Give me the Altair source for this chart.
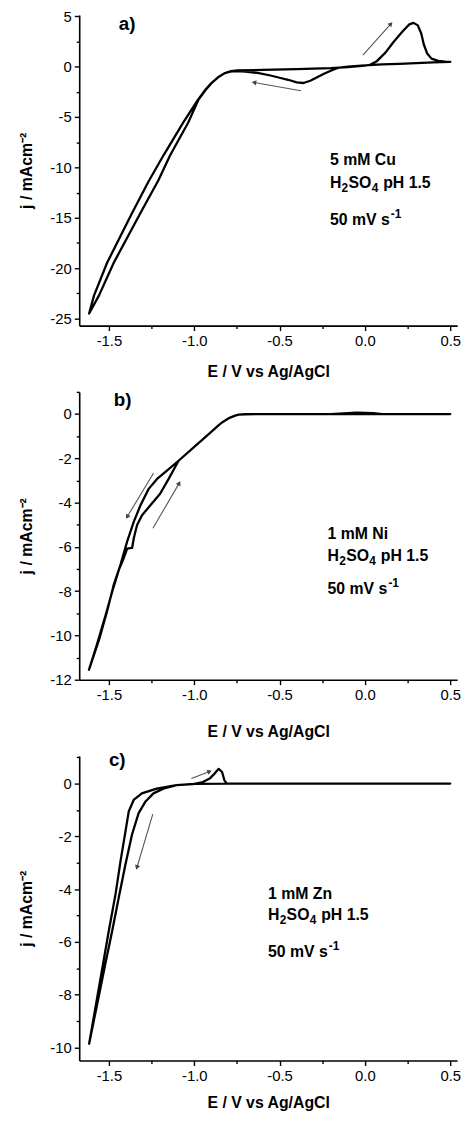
import math
import altair as alt
import pandas as pd

FONT = "Liberation Sans"
W = 382
XDOM = [-1.674, 0.54]
X_MAJOR = [-1.5, -1.0, -0.5, 0.0, 0.5]
X_MINOR = [-1.25, -0.75, -0.25, 0.25]

# ---------------- panel a) 5 mM Cu ----------------
cu_E = [0.50, 0.40, 0.30, 0.20, 0.10, 0.00, -0.10, -0.16, -0.20, -0.24, -0.28, -0.32, -0.36, -0.40,
        -0.45, -0.50, -0.56, -0.63, -0.70, -0.75, -0.79, -0.825, -0.86, -0.90, -0.94, -0.978,
        -1.065, -1.181, -1.268, -1.365, -1.51, -1.587, -1.616,
        -1.558, -1.471, -1.316, -1.21, -1.142, -1.036, -0.975, -0.935, -0.897, -0.858, -0.82,
        -0.785, -0.746, -0.60, -0.40, -0.20, -0.10, 0.00, 0.03, 0.07, 0.12, 0.17, 0.22, 0.26,
        0.285, 0.31, 0.33, 0.345, 0.365, 0.39, 0.43, 0.47, 0.50]
cu_j = [0.48, 0.42, 0.35, 0.28, 0.22, 0.12, 0.00, -0.12, -0.40, -0.70, -1.05, -1.40, -1.62, -1.55,
        -1.30, -1.10, -0.85, -0.62, -0.48, -0.44, -0.50, -0.68, -1.05, -1.63, -2.40, -3.27,
        -5.56, -8.82, -11.4, -14.54, -19.44, -22.7, -24.5,
        -22.7, -19.44, -14.54, -11.27, -8.82, -5.56, -3.27, -2.35, -1.60, -1.02, -0.63,
        -0.43, -0.36, -0.32, -0.25, -0.15, -0.04, 0.10, 0.18, 0.55, 1.40, 2.50, 3.50, 4.20,
        4.35, 4.10, 3.30, 2.20, 1.30, 0.80, 0.58, 0.50, 0.48]
cu_arrow_x1 = [-0.012, -0.375]
cu_arrow_y1 = [1.14, -2.39]
cu_arrow_x2 = [0.152, -0.65]
cu_arrow_y2 = [4.25, -1.57]
cu_label = "5 mM Cu"
cu_text_y = [-9.25, -11.54, -15.2]

# ---------------- panel b) 1 mM Ni ----------------
ni_E = [0.50, 0.10, 0.05, -0.05, -0.10, -0.20, -0.40, -0.60, -0.70, -0.74, -0.76, -0.79, -0.81,
        -0.835, -0.86, -0.907, -1.005, -1.092, -1.16, -1.218, -1.267, -1.315, -1.354, -1.393,
        -1.432, -1.471, -1.51, -1.558, -1.617,
        -1.57, -1.52, -1.48, -1.44, -1.413, -1.393, -1.364, -1.354, -1.335, -1.306, -1.257,
        -1.20, -1.15, -1.092, -1.005, -0.907, -0.86, -0.835, -0.81, -0.79, -0.76, -0.74, -0.70,
        -0.50, 0.50]
ni_j = [0.0, 0.0, 0.04, 0.06, 0.04, 0.0, 0.0, 0.0, -0.01, -0.03, -0.07, -0.16, -0.25,
        -0.37, -0.52, -0.85, -1.52, -2.11, -2.56, -2.93, -3.38, -4.12, -4.86, -5.75,
        -6.80, -7.69, -8.88, -10.2, -11.55,
        -10.4, -9.1, -8.0, -7.0, -6.5, -6.08, -6.05, -5.6, -5.01, -4.57, -4.12,
        -3.6, -2.93, -2.11, -1.52, -0.85, -0.52, -0.37, -0.25, -0.16, -0.07, -0.03, -0.01,
        0.0, 0.0]
ni_arrow_x1 = [-1.238, -1.242]
ni_arrow_y1 = [-2.66, -5.16]
ni_arrow_x2 = [-1.393, -1.088]
ni_arrow_y2 = [-4.64, -3.12]
ni_label = "1 mM Ni"
ni_text_y = [-5.42, -6.43, -7.92]

# ---------------- panel c) 1 mM Zn ----------------
zn_E = [0.50, -0.80, -1.00, -1.104, -1.181, -1.239, -1.287, -1.326, -1.365, -1.403, -1.442, -1.48,
        -1.52, -1.57, -1.616,
        -1.60, -1.55, -1.50, -1.461, -1.432, -1.403, -1.384, -1.355, -1.307, -1.22, -1.104, -1.007,
        -0.949, -0.91, -0.882, -0.857, -0.837, -0.823, -0.81, -0.70, 0.50]
zn_j = [0.0, 0.0, -0.01, -0.06, -0.19, -0.37, -0.69, -1.12, -1.94, -3.06, -4.31, -5.56,
        -6.80, -8.40, -9.86,
        -9.27, -7.41, -5.56, -4.18, -2.94, -1.81, -1.06, -0.62, -0.37, -0.19, -0.06, -0.02,
        0.06, 0.19, 0.37, 0.56, 0.44, 0.12, 0.0, 0.0, 0.0]
zn_arrow_x1 = [-1.017, -1.243]
zn_arrow_y1 = [0.19, -1.16]
zn_arrow_x2 = [-0.91, -1.336]
zn_arrow_y2 = [0.46, -3.18]
zn_label = "1 mM Zn"
zn_text_y = [-4.18, -5.0, -6.37]

FIX_MINUS = "replace(datum.label, '\u2212', '-')"


def text_piece(x, y, s, xs, ys, size=16, dx=0, dy=0):
    df = pd.DataFrame({"x": [x], "y": [y], "t": [s]})
    return alt.Chart(df).mark_text(
        align="left", baseline="middle", font=FONT, fontSize=size, fontWeight="bold",
        color="black", dx=dx, dy=dy
    ).encode(
        x=alt.X("x:Q", scale=xs, axis=None),
        y=alt.Y("y:Q", scale=ys, axis=None),
        text="t:N",
    )


def build_panel(E, J, ydom, height, y_major, y_minor, ax1, ay1, ax2, ay2,
                text_x, first_line, text_y, tag, tag_x, tag_y, xtitle_pad):
    xs = alt.Scale(domain=XDOM, nice=False, zero=False)
    ys = alt.Scale(domain=ydom, nice=False, zero=False)
    curve = pd.DataFrame({"E": E, "j": J, "i": list(range(len(E)))})

    line = alt.Chart(curve).mark_line(
        color="black", strokeWidth=2.3, strokeJoin="round", strokeCap="round"
    ).encode(
        x=alt.X("E:Q", scale=xs, axis=alt.Axis(
            values=X_MAJOR, format=".1f", title="E / V vs Ag/AgCl", orient="bottom",
            titlePadding=xtitle_pad, labelExpr=FIX_MINUS)),
        y=alt.Y("j:Q", scale=ys, axis=alt.Axis(
            values=y_major, format="d", title="j / mAcm\u207b\u00b2", orient="left",
            titlePadding=16, labelExpr=FIX_MINUS)),
        order="i:Q",
    )

    minor = alt.Chart(curve).mark_point(opacity=0).encode(
        x=alt.X("E:Q", scale=xs, axis=alt.Axis(
            values=X_MINOR, labels=False, title=None, tickSize=3, domain=False, orient="bottom")),
        y=alt.Y("j:Q", scale=ys, axis=alt.Axis(
            values=y_minor, labels=False, title=None, tickSize=3, domain=False, orient="left")),
    )

    sx = W / (XDOM[1] - XDOM[0])
    sy = height / (ydom[1] - ydom[0])
    angs = [(math.degrees(math.atan2((b - a) * sx, (d - c) * sy)) + 360) % 360
            for a, b, c, d in zip(ax1, ax2, ay1, ay2)]
    arr = pd.DataFrame({"x1": ax1, "y1": ay1, "x2": ax2, "y2": ay2, "ang": angs})

    rules = alt.Chart(arr).mark_rule(color="#555555", strokeWidth=1.1).encode(
        x=alt.X("x1:Q", scale=xs, axis=None),
        y=alt.Y("y1:Q", scale=ys, axis=None),
        x2="x2:Q",
        y2="y2:Q",
    )
    heads = alt.Chart(arr).mark_point(
        shape="triangle-up", filled=True, size=28, color="#444444", opacity=1
    ).encode(
        x=alt.X("x2:Q", scale=xs, axis=None),
        y=alt.Y("y2:Q", scale=ys, axis=None),
        angle=alt.Angle("ang:Q", scale=None),
    )

    # annotation block (with sub/superscripts built from pieces)
    pieces = [
        text_piece(text_x, text_y[0], first_line, xs, ys),
        text_piece(text_x, text_y[1], "H", xs, ys),
        text_piece(text_x, text_y[1], "2", xs, ys, size=12, dx=11.8, dy=5),
        text_piece(text_x, text_y[1], "SO", xs, ys, dx=18.8),
        text_piece(text_x, text_y[1], "4", xs, ys, size=12, dx=42.2, dy=5),
        text_piece(text_x, text_y[1], "pH 1.5", xs, ys, dx=53.8),
        text_piece(text_x, text_y[2], "50 mV s", xs, ys),
        text_piece(text_x, text_y[2], "-1", xs, ys, size=12, dx=61.5, dy=-6),
    ]

    tagm = text_piece(tag_x, tag_y, tag, xs, ys, size=19)

    return alt.layer(line, minor, rules, heads, *pieces, tagm).resolve_axis(
        x="independent", y="independent"
    ).properties(width=W, height=height)


pa = build_panel(cu_E, cu_j, [-25.7, 5.13], 314, [5, 0, -5, -10, -15, -20, -25],
                 [2.5, -2.5, -7.5, -12.5, -17.5, -22.5],
                 cu_arrow_x1, cu_arrow_y1, cu_arrow_x2, cu_arrow_y2,
                 -0.205, cu_label, cu_text_y, "a)", -1.442, 4.2, 15)
pb = build_panel(ni_E, ni_j, [-12.0, 1.0], 291, [0, -2, -4, -6, -8, -10, -12],
                 [1, -1, -3, -5, -7, -9, -11],
                 ni_arrow_x1, ni_arrow_y1, ni_arrow_x2, ni_arrow_y2,
                 -0.219, ni_label, ni_text_y, "b)", -1.471, 0.64, 21)
pc = build_panel(zn_E, zn_j, [-10.5, 1.05], 308, [0, -2, -4, -6, -8, -10],
                 [1, -1, -3, -5, -7, -9],
                 zn_arrow_x1, zn_arrow_y1, zn_arrow_x2, zn_arrow_y2,
                 -0.568, zn_label, zn_text_y, "c)", -1.5, 0.90, 11)

chart = alt.vconcat(pa, pb, pc, spacing=12).properties(
    padding={"left": 10, "top": -5, "right": 5, "bottom": 5}
).configure_view(stroke=None).configure_axis(
    grid=False,
    domainColor="black", domainWidth=1.6,
    tickColor="black", tickWidth=1.4, tickSize=5,
    labelFont=FONT, labelFontSize=15, labelColor="black", labelPadding=3,
    titleFont=FONT, titleFontSize=16, titleFontWeight="bold", titleColor="black",
)

chart.save("out.html", embed_options={"renderer": "svg", "actions": False})
